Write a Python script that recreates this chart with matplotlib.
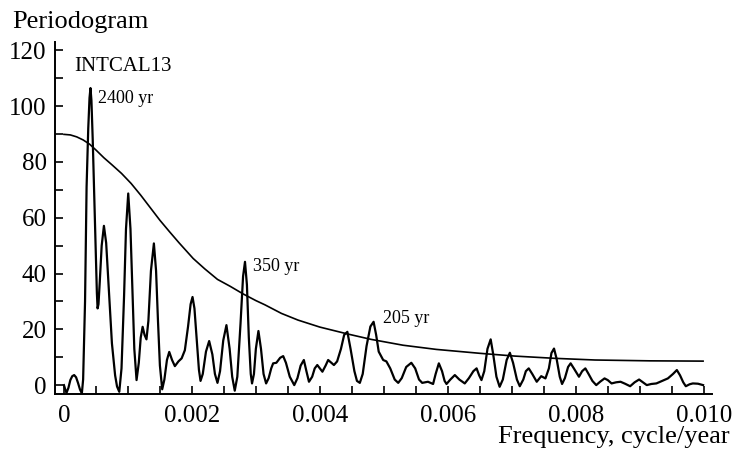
import numpy as np
import matplotlib.pyplot as plt

plt.rcParams['font.family'] = ['Liberation Serif', 'DejaVu Serif']

# periodogram (frequency in 1e-3 cycle/year)
freq = np.array([
    0.000, 0.02, 0.04, 0.07, 0.10, 0.13, 0.16, 0.19, 0.22, 0.25,
    0.28, 0.30, 0.33, 0.354, 0.38, 0.40, 0.415, 0.43, 0.45, 0.474,
    0.50, 0.515, 0.526, 0.54, 0.56, 0.59, 0.625, 0.66, 0.70, 0.75,
    0.80, 0.83, 0.865, 0.90, 0.94, 0.97, 1.005, 1.04, 1.07, 1.10,
    1.135, 1.17, 1.20, 1.23, 1.26, 1.29, 1.32, 1.36, 1.406, 1.44,
    1.47, 1.50, 1.536, 1.57, 1.61, 1.646, 1.69, 1.734, 1.79, 1.84,
    1.89, 1.94, 1.98, 2.01, 2.04, 2.08, 2.11, 2.135, 2.17, 2.22,
    2.27, 2.32, 2.36, 2.40, 2.44, 2.49, 2.54, 2.59, 2.63, 2.67,
    2.71, 2.76, 2.80, 2.83, 2.86, 2.89, 2.92, 2.94, 2.97, 3.00,
    3.04, 3.08, 3.12, 3.16, 3.20, 3.24, 3.27, 3.32, 3.38, 3.427,
    3.47, 3.53, 3.60, 3.65, 3.70, 3.75, 3.79, 3.83, 3.88, 3.92,
    3.96, 4.00, 4.04, 4.09, 4.13, 4.18, 4.22, 4.27, 4.33, 4.38,
    4.43, 4.48, 4.54, 4.58, 4.625, 4.67, 4.73, 4.79, 4.84, 4.88,
    4.92, 4.99, 5.04, 5.10, 5.17, 5.225, 5.28, 5.35, 5.43, 5.49,
    5.55, 5.60, 5.69, 5.77, 5.81, 5.86, 5.91, 5.95, 5.98, 6.04,
    6.11, 6.18, 6.265, 6.33, 6.40, 6.45, 6.49, 6.526, 6.57, 6.62,
    6.67, 6.71, 6.76, 6.81, 6.86, 6.92, 6.97, 7.02, 7.08, 7.125,
    7.18, 7.22, 7.265, 7.32, 7.39, 7.46, 7.526, 7.58, 7.62, 7.66,
    7.70, 7.75, 7.786, 7.83, 7.88, 7.92, 7.97, 8.05, 8.10, 8.15,
    8.20, 8.26, 8.32, 8.38, 8.45, 8.50, 8.56, 8.63, 8.70, 8.77,
    8.85, 8.92, 8.99, 9.05, 9.11, 9.18, 9.26, 9.35, 9.44, 9.52,
    9.58, 9.63, 9.68, 9.72, 9.78, 9.83, 9.91, 9.99]) * 1e-3
power = np.array([
    0.0, -1.5, -2.8, -1.0, 1.8, 3.2, 3.6, 2.8, 0.8, -1.5,
    -3.0, 2.0, 30.0, 71.0, 92.0, 103.0, 106.5, 102.0, 88.0, 68.0,
    45.0, 33.0, 27.5, 29.0, 37.0, 50.0, 57.1, 51.0, 35.0, 15.0,
    3.5, -0.5, -2.4, 6.0, 32.0, 56.0, 68.7, 56.0, 34.0, 13.0,
    1.8, 8.0, 17.0, 20.9, 18.0, 16.4, 23.0, 41.0, 50.8, 41.0,
    23.0, 7.0, -1.5, 2.0, 9.0, 11.9, 9.0, 6.8, 8.5, 9.6,
    12.5, 21.0, 29.0, 31.6, 27.5, 15.0, 5.5, 1.5, 4.0, 12.0,
    15.8, 11.0, 4.0, 0.8, 5.0, 16.0, 21.5, 13.0, 3.0, -2.0,
    3.0, 22.0, 39.0, 44.2, 36.0, 17.0, 4.0, 0.6, 4.0, 13.0,
    19.4, 13.0, 4.0, 0.6, 2.5, 6.0, 7.8, 8.0, 9.8, 10.4,
    8.0, 3.0, 0.0, 2.5, 7.0, 9.0, 5.0, 1.2, 3.0, 6.0,
    7.2, 6.0, 4.8, 7.0, 9.0, 8.0, 7.2, 8.5, 13.0, 18.0,
    19.1, 13.0, 5.0, 1.5, 0.8, 4.0, 14.0, 21.0, 22.7, 18.0,
    12.0, 9.0, 8.5, 6.0, 2.0, 0.8, 2.5, 6.5, 8.0, 6.0,
    2.0, 0.8, 1.2, 0.4, 4.0, 7.8, 5.0, 1.5, 0.4, 2.0,
    3.6, 2.0, 0.6, 2.5, 5.0, 6.0, 3.5, 1.8, 5.0, 13.0,
    16.4, 11.0, 3.0, -0.6, 2.0, 9.0, 11.6, 8.0, 2.0, -0.4,
    2.0, 5.0, 6.0, 4.0, 1.2, 3.2, 2.4, 6.0, 11.5, 13.1,
    9.5, 3.0, 0.4, 2.5, 6.5, 7.8, 6.0, 3.0, 5.0, 6.0,
    4.0, 1.5, 0.0, 1.2, 2.4, 1.8, 0.6, 1.0, 1.2, 0.5,
    -0.4, 1.0, 2.0, 1.0, 0.0, 0.4, 0.6, 1.5, 2.4, 4.0,
    5.4, 3.5, 1.0, -0.4, 0.3, 0.6, 0.5, 0.0])

# smooth reference (red-noise) curve
bg_freq = np.array([0.0, 0.1, 0.2, 0.3, 0.4, 0.5, 0.625, 0.75, 0.9, 1.05,
                    1.2, 1.35, 1.5, 1.65, 1.8, 2.02, 2.2, 2.4, 2.6, 2.8,
                    3.0, 3.14, 3.4, 3.66, 4.0, 4.44, 4.8, 5.3, 5.82, 6.5,
                    7.05, 7.67, 8.3, 9.16, 9.99]) * 1e-3
bg_power = np.array([89.9, 89.7, 89.0, 87.9, 86.4, 84.3, 81.5, 79.0, 75.9, 72.3,
                     68.1, 63.6, 59.1, 55.0, 51.0, 45.4, 41.7, 37.9, 35.4, 32.7,
                     30.3, 28.8, 25.7, 23.3, 20.8, 18.3, 16.4, 14.3, 12.8, 11.4,
                     10.4, 9.6, 9.0, 8.7, 8.6])

peak_labels = ["2400 yr", "350 yr", "205 yr"]
peak_pos = [(0.00053, 101), (0.00295, 40.9), (0.00498, 22.2)]

fig = plt.figure(figsize=(7.33, 4.55), dpi=100)
ax = fig.add_axes([0.075, 0.134, 0.8964, 0.7736])

ax.plot(freq, power, c="black", lw=1.6)
ax.plot(bg_freq, bg_power, c="black", lw=1.2)

ax.set_xlim(-0.00014, 0.01013)
ax.set_ylim(-3.2, 123)
ax.set_xticks(np.arange(0, 0.0101, 0.002))
ax.set_xticklabels(["0", "0.002", "0.004", "0.006", "0.008", "0.010"])
ax.set_xticks(np.arange(0, 0.0101, 0.0005), minor=True)
ax.set_yticks(np.arange(0, 121, 20))
ax.set_yticks(np.arange(10, 121, 20), minor=True)
ax.tick_params(which="both", direction="in", length=6, width=1.2, labelsize=18)
ax.tick_params(axis="x", pad=8)
ax.tick_params(axis="y", pad=6)
for s in ["top", "right"]:
    ax.spines[s].set_visible(False)
for s in ["left", "bottom"]:
    ax.spines[s].set_linewidth(1.4)

ax.text(0.000156, 112.5, "INTCAL13", fontsize=15, va="baseline")
for lab, (x, y) in zip(peak_labels, peak_pos):
    ax.text(x, y, lab, fontsize=13, va="baseline")

fig.text(12 / 733, 1 - 28 / 455, "Periodogram", fontsize=19, va="baseline")
fig.text(730 / 733, 1 - 443 / 455, "Frequency, cycle/year", fontsize=19,
         va="baseline", ha="right")

plt.savefig("out.png", dpi=100)
